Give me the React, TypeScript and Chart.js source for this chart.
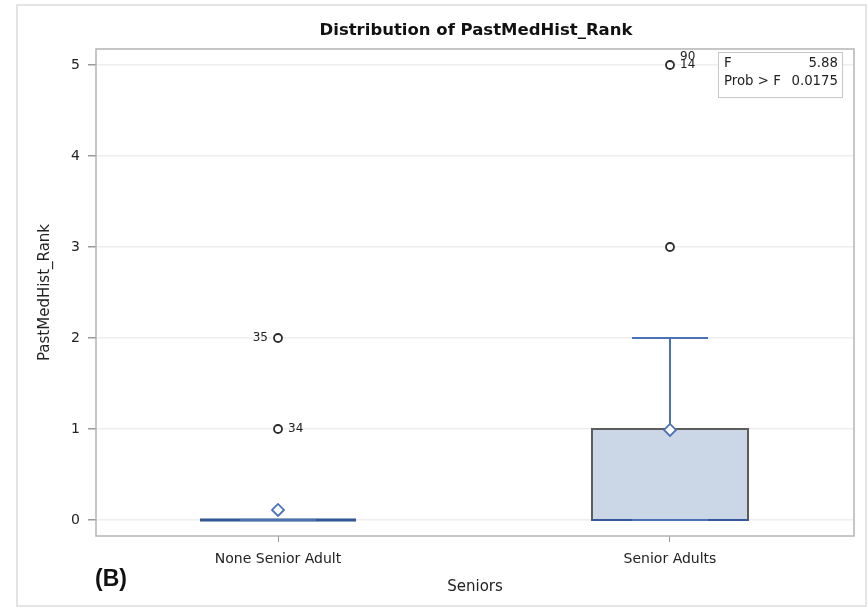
import React, { useEffect, useRef } from "react";
import { Chart, registerables } from "chart.js";

Chart.register(...registerables);

const categories = ["None Senior Adult", "Senior Adults"];
const q1 = [0, 0];
const median = [0, 0];
const q3 = [0, 1];
const whiskerLow = [0, 0];
const whiskerHigh = [0, 2];
const means = [0.11, 0.99];
const outlierCat = [0, 0, 1, 1];
const outlierVal = [1, 2, 3, 5];
const outlierLabels = [["34"], ["35"], [], ["90", "14"]];
const outlierSide = ["right", "left", "right", "right"];
const yTicks = [0, 1, 2, 3, 4, 5];
const fStat = "5.88";
const probF = "0.0175";

const FONT = "'DejaVu Sans', Verdana, sans-serif";

export default function App() {
  const ref = useRef<HTMLCanvasElement>(null);
  useEffect(() => {
    const canvas = ref.current!;
    const boxPlugin = {
      id: "boxPlugin",
      beforeDraw(chart: any) {
        const ctx = chart.ctx;
        ctx.save();
        ctx.fillStyle = "#ffffff";
        ctx.fillRect(0, 0, chart.width, chart.height);
        ctx.strokeStyle = "#dcdcdc";
        ctx.lineWidth = 1.5;
        ctx.strokeRect(17, 5, 849, 601);
        ctx.restore();
      },
      beforeDatasetsDraw(chart: any) {
        const ctx = chart.ctx;
        const xs = chart.scales.x;
        const ys = chart.scales.y;
        const a = chart.chartArea;
        ctx.save();
        ctx.strokeStyle = "#b4b4b4";
        ctx.lineWidth = 1.5;
        ctx.strokeRect(a.left, a.top, a.right - a.left, a.bottom - a.top);
        const boxHalf = 0.199;
        const capHalf = 0.097;
        categories.forEach((_, i) => {
          const xl = xs.getPixelForValue(i - boxHalf);
          const xr = xs.getPixelForValue(i + boxHalf);
          const cl = xs.getPixelForValue(i - capHalf);
          const cr = xs.getPixelForValue(i + capHalf);
          const xc = xs.getPixelForValue(i);
          const y1 = ys.getPixelForValue(q1[i]);
          const y3 = ys.getPixelForValue(q3[i]);
          const ym = ys.getPixelForValue(median[i]);
          const wl = ys.getPixelForValue(whiskerLow[i]);
          const wh = ys.getPixelForValue(whiskerHigh[i]);
          ctx.strokeStyle = "#4a72b8";
          ctx.lineWidth = 2;
          ctx.beginPath();
          ctx.moveTo(xc, y3);
          ctx.lineTo(xc, wh);
          ctx.moveTo(cl, wh);
          ctx.lineTo(cr, wh);
          ctx.moveTo(xc, y1);
          ctx.lineTo(xc, wl);
          ctx.stroke();
          ctx.fillStyle = "#cbd7e6";
          ctx.fillRect(xl, y3, xr - xl, y1 - y3);
          ctx.strokeStyle = q3[i] === q1[i] ? "#2d4a73" : "#5c5c5c";
          ctx.lineWidth = q3[i] === q1[i] ? 3 : 2;
          ctx.strokeRect(xl, y3, xr - xl, y1 - y3);
          ctx.strokeStyle = "#31589a";
          ctx.lineWidth = 2;
          ctx.beginPath();
          ctx.moveTo(xl, ym);
          ctx.lineTo(xr, ym);
          ctx.stroke();
          ctx.strokeStyle = "#4a72b8";
          ctx.lineWidth = 2;
          ctx.beginPath();
          ctx.moveTo(cl, wl);
          ctx.lineTo(cr, wl);
          ctx.stroke();
        });
        ctx.restore();
      },
      afterDatasetsDraw(chart: any) {
        const ctx = chart.ctx;
        const xs = chart.scales.x;
        const ys = chart.scales.y;
        ctx.save();
        ctx.fillStyle = "#222222";
        ctx.font = `12px ${FONT}`;
        ctx.textBaseline = "middle";
        outlierVal.forEach((v, i) => {
          const px = xs.getPixelForValue(outlierCat[i]);
          const py = ys.getPixelForValue(v);
          const labs = outlierLabels[i];
          labs.forEach((t, k) => {
            const dy = (k - (labs.length - 1)) * 8;
            if (outlierSide[i] === "left") {
              ctx.textAlign = "right";
              ctx.fillText(t, px - 10, py + dy);
            } else {
              ctx.textAlign = "left";
              ctx.fillText(t, px + 10, py + dy);
            }
          });
        });
        ctx.fillStyle = "#111111";
        ctx.font = `bold 16.5px ${FONT}`;
        ctx.textAlign = "center";
        ctx.fillText("Distribution of PastMedHist_Rank", 476, 31);
        ctx.fillStyle = "#ffffff";
        ctx.fillRect(718, 52, 124, 45);
        ctx.strokeStyle = "#c8c8c8";
        ctx.lineWidth = 1;
        ctx.strokeRect(718.5, 52.5, 124, 45);
        ctx.fillStyle = "#222222";
        ctx.font = `13.3px ${FONT}`;
        ctx.textAlign = "left";
        ctx.fillText("F", 724, 64);
        ctx.fillText("Prob > F", 724, 82);
        ctx.textAlign = "right";
        ctx.fillText(fStat, 838, 64);
        ctx.fillText(probF, 838, 82);
        ctx.fillStyle = "#111111";
        ctx.font = `bold 23px 'Liberation Sans', Arial, sans-serif`;
        ctx.textAlign = "left";
        ctx.fillText("(B)", 95, 580);
        ctx.restore();
      },
    };

    const chart = new Chart(canvas, {
      type: "scatter",
      data: {
        datasets: [
          {
            label: "Outliers",
            data: outlierVal.map((v, i) => ({ x: outlierCat[i], y: v })),
            pointStyle: "circle",
            pointRadius: 4,
            pointBorderWidth: 1.8,
            pointBorderColor: "#2b2b2b",
            pointBackgroundColor: "#ffffff",
          },
          {
            label: "Mean",
            data: means.map((v, i) => ({ x: i, y: v })),
            pointStyle: "rectRot",
            pointRadius: 6,
            pointBorderWidth: 1.8,
            pointBorderColor: "#4a72b8",
            pointBackgroundColor: "#ffffff",
          },
        ],
      },
      options: {
        animation: false,
        responsive: false,
        events: [],
        layout: { padding: { left: 0, right: 14, top: 49, bottom: 0 } },
        plugins: { legend: { display: false }, tooltip: { enabled: false }, title: { display: false } },
        scales: {
          x: {
            type: "linear",
            min: -0.4643,
            max: 1.4694,
            afterBuildTicks: (s: any) => {
              s.ticks = categories.map((_, i) => ({ value: i }));
            },
            afterFit: (s: any) => {
              s.height = 74;
            },
            border: { display: false },
            grid: { drawOnChartArea: false, drawTicks: true, tickLength: 6, tickColor: "#9a9a9a" },
            ticks: {
              callback: (v: any) => categories[v] ?? "",
              color: "#222222",
              font: { family: FONT, size: 14 },
              padding: 9,
              maxRotation: 0,
            },
            title: {
              display: true,
              text: "Seniors",
              color: "#222222",
              font: { family: FONT, size: 15 },
              padding: { top: 0, bottom: 14 },
            },
          },
          y: {
            type: "linear",
            min: -0.176,
            max: 5.176,
            afterBuildTicks: (s: any) => {
              s.ticks = yTicks.map((v) => ({ value: v }));
            },
            afterFit: (s: any) => {
              s.width = 96;
            },
            border: { display: false },
            grid: { color: "#eeeeee", lineWidth: 1.5, drawTicks: true, tickLength: 8, tickColor: "#9a9a9a" },
            ticks: {
              color: "#222222",
              font: { family: FONT, size: 14 },
              padding: 8,
            },
            title: {
              display: true,
              text: "PastMedHist_Rank",
              color: "#222222",
              font: { family: FONT, size: 15 },
              padding: { top: 36, bottom: 0 },
            },
          },
        },
      },
      plugins: [boxPlugin],
    } as any);
    return () => chart.destroy();
  }, []);
  return (
    <canvas
      ref={ref}
      width={868}
      height={610}
      style={{ position: "fixed", left: 0, top: 0, width: 868, height: 610 }}
    />
  );
}
